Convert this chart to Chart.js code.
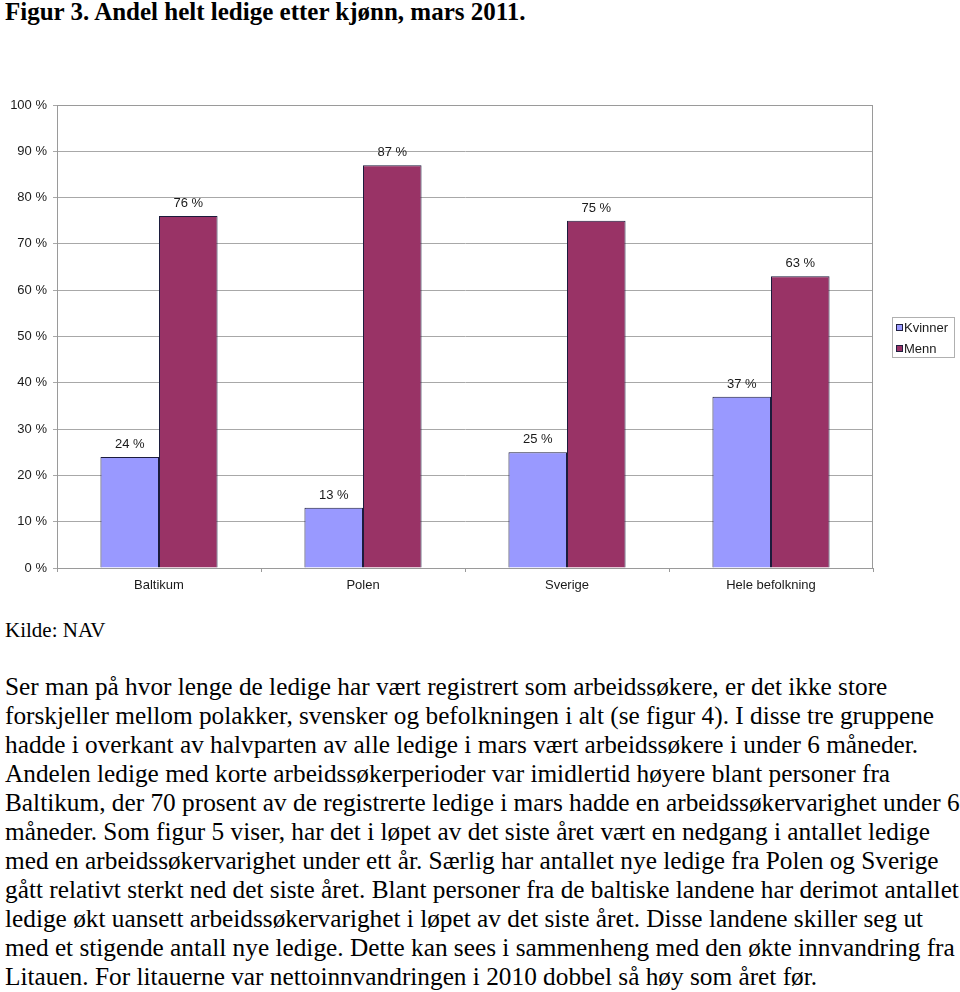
<!DOCTYPE html>
<html>
<head>
<meta charset="utf-8">
<script src="https://cdn.jsdelivr.net/npm/chart.js@4.4.1/dist/chart.umd.min.js"></script>
<style>
  html, body { margin: 0; padding: 0; background: #fff; }
  body { width: 960px; height: 992px; position: relative; overflow: hidden; }
  #title { position: absolute; left: 5px; top: -3px; font: bold 25px/29px "Liberation Serif", "Times New Roman", serif; color: #000; white-space: nowrap; }
  #chartBox { position: absolute; left: 0; top: 80px; width: 960px; height: 530px; }
  #source { position: absolute; left: 5px; top: 618px; font: 21px/25px "Liberation Serif", "Times New Roman", serif; color: #000; white-space: nowrap; }
  #text { position: absolute; left: 5px; top: 672px; font: 25.3px/29px "Liberation Serif", "Times New Roman", serif; color: #000; white-space: nowrap; }
</style>
</head>
<body>
<div id="title">Figur 3. Andel helt ledige etter kjønn, mars 2011.</div>
<div id="chartBox"><canvas id="c" width="960" height="530"></canvas></div>
<div id="source">Kilde: NAV</div>
<div id="text">Ser man på hvor lenge de ledige har vært registrert som arbeidssøkere, er det ikke store<br>forskjeller mellom polakker, svensker og befolkningen i alt (se figur 4). I disse tre gruppene<br>hadde i overkant av halvparten av alle ledige i mars vært arbeidssøkere i under 6 måneder.<br>Andelen ledige med korte arbeidssøkerperioder var imidlertid høyere blant personer fra<br>Baltikum, der 70 prosent av de registrerte ledige i mars hadde en arbeidssøkervarighet under 6<br>måneder. Som figur 5 viser, har det i løpet av det siste året vært en nedgang i antallet ledige<br>med en arbeidssøkervarighet under ett år. Særlig har antallet nye ledige fra Polen og Sverige<br>gått relativt sterkt ned det siste året. Blant personer fra de baltiske landene har derimot antallet<br>ledige økt uansett arbeidssøkervarighet i løpet av det siste året. Disse landene skiller seg ut<br>med et stigende antall nye ledige. Dette kan sees i sammenheng med den økte innvandring fra<br>Litauen. For litauerne var nettoinnvandringen i 2010 dobbel så høy som året før.</div>
<script>
const categories = ["Baltikum", "Polen", "Sverige", "Hele befolkning"];
const kvinner = [24, 13, 25, 37];
const menn = [76, 87, 75, 63];
const seriesNames = ["Kvinner", "Menn"];
const yTicks = [0, 10, 20, 30, 40, 50, 60, 70, 80, 90, 100];

const FONT = '"Liberation Sans", Arial, sans-serif';
const TXT = '#1a1a1a';

const frameAndLabels = {
  id: 'frameAndLabels',
  afterDatasetsDraw(chart) {
    const ctx = chart.ctx;
    const a = chart.chartArea;
    ctx.save();
    ctx.strokeStyle = '#9a9a9a';
    ctx.lineWidth = 1;
    ctx.strokeRect(Math.round(a.left) + 0.5, Math.round(a.top) + 0.5, Math.round(a.right - a.left) - 1, Math.round(a.bottom - a.top));
    ctx.font = '13px ' + FONT;
    ctx.fillStyle = TXT;
    ctx.textAlign = 'center';
    ctx.textBaseline = 'alphabetic';
    chart.data.datasets.forEach((ds, i) => {
      const meta = chart.getDatasetMeta(i);
      meta.data.forEach((bar, j) => {
        ctx.fillText(ds.data[j] + ' %', bar.x, bar.y - 9);
      });
    });
    // legend
    const lx = Math.round(a.right) + 19, lw = 62, lh = 40;
    const ly = Math.round((a.top + a.bottom) / 2 - lh / 2);
    ctx.strokeStyle = '#b0b0b0';
    ctx.strokeRect(lx + 0.5, ly + 0.5, lw, lh);
    ctx.textAlign = 'left';
    ctx.textBaseline = 'middle';
    chart.data.datasets.forEach((ds, i) => {
      const cy = ly + 10 + i * 21;
      ctx.fillStyle = ds.backgroundColor;
      ctx.fillRect(lx + 4, cy - 3, 7, 7);
      ctx.strokeStyle = '#202040';
      ctx.strokeRect(lx + 4.5, cy - 2.5, 6, 6);
      ctx.fillStyle = TXT;
      ctx.fillText(ds.label, lx + 12, cy + 1);
    });
    ctx.restore();
  }
};

new Chart(document.getElementById('c'), {
  type: 'bar',
  data: {
    labels: categories,
    datasets: [
      { label: seriesNames[0], data: kvinner, backgroundColor: '#9999ff', borderColor: '#1c1c3c', borderWidth: 1, borderSkipped: 'bottom' },
      { label: seriesNames[1], data: menn, backgroundColor: '#993366', borderColor: '#1c1c3c', borderWidth: 1, borderSkipped: 'bottom' }
    ]
  },
  options: {
    responsive: false,
    animation: false,
    devicePixelRatio: 1,
    layout: { padding: { top: 25, right: 87, bottom: 12, left: 0 } },
    plugins: { legend: { display: false }, tooltip: { enabled: false } },
    datasets: { bar: { categoryPercentage: 0.574, barPercentage: 1.0 } },
    scales: {
      x: {
        afterFit(s) { s.height = 30; },
        grid: { drawOnChartArea: false, drawTicks: true, tickLength: 4, color: '#9a9a9a' },
        border: { color: '#9a9a9a' },
        ticks: { font: { family: FONT, size: 13 }, color: TXT, padding: 6 }
      },
      y: {
        min: 0, max: 100,
        afterFit(s) { s.width = 57; },
        afterBuildTicks(s) { s.ticks = yTicks.map(v => ({ value: v })); },
        grid: { color: '#a8a8a8', tickLength: 4, drawTicks: true },
        border: { color: '#8c8c8c' },
        ticks: { font: { family: FONT, size: 13 }, color: TXT, padding: 6, callback: v => v + ' %' }
      }
    }
  },
  plugins: [frameAndLabels]
});
</script>
</body>
</html>
